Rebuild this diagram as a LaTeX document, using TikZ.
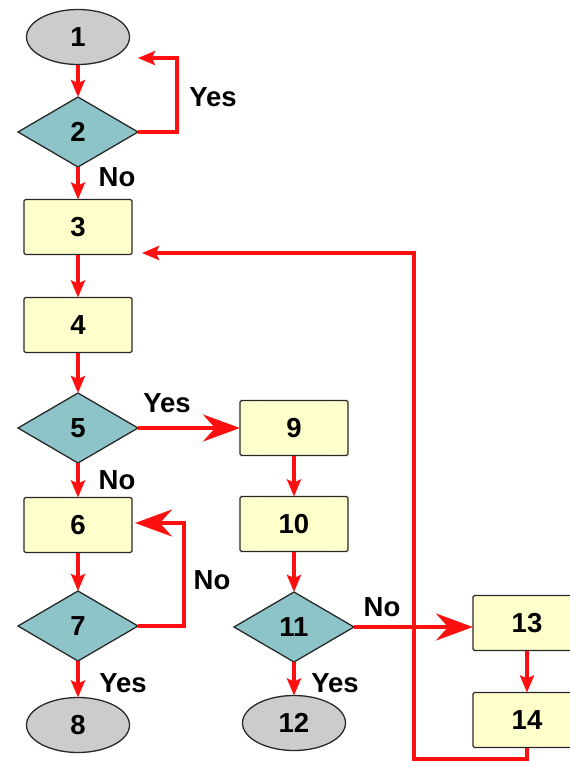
\documentclass[tikz,border=0pt]{standalone}
\usepackage{fontspec}
\setmainfont{Liberation Sans}
\usetikzlibrary{shapes.geometric,arrows.meta}
\definecolor{boxfill}{RGB}{255,255,204}
\definecolor{decfill}{RGB}{140,196,200}
\definecolor{termfill}{RGB}{204,204,204}
\definecolor{flowred}{RGB}{255,16,16}
\definecolor{edge}{RGB}{40,40,40}
\begin{document}
\begin{tikzpicture}[x=1pt,y=-1pt,
  font=\fontsize{27.5}{27.5}\selectfont\bfseries,
  base/.style={draw=edge, line width=1.3pt, inner sep=0pt, outer sep=0pt},
  procbox/.style={base, rectangle, rounded corners=1.5pt, fill=boxfill,
    minimum width=108pt, minimum height=55pt},
  decision/.style={base, diamond, fill=decfill,
    minimum width=120pt, minimum height=70pt},
  terminal/.style={base, ellipse, fill=termfill,
    minimum width=103pt, minimum height=55pt},
  flow/.style={draw=flowred, line width=3.5pt,
    -{Stealth[length=17pt, width=14pt, inset=3pt]}},
  flowbig/.style={draw=flowred, line width=3.5pt,
    -{Stealth[length=37pt, width=27pt, inset=12pt]}},
  lbl/.style={inner sep=0pt}]
\useasboundingbox (0,0) rectangle (570,761);
\clip (0,0) rectangle (570,761);

% left column
\node[terminal] (n1) at (78,37) {1};
\node[decision] (n2) at (78,132) {2};
\node[procbox]  (n3) at (78,227) {3};
\node[procbox]  (n4) at (78,325) {4};
\node[decision] (n5) at (78,428) {5};
\node[procbox]  (n6) at (78,525) {6};
\node[decision] (n7) at (78,626) {7};
\node[terminal] (n8) at (78,725) {8};

% middle column
\node[procbox]  (n9)  at (294,428) {9};
\node[procbox]  (n10) at (294,524) {10};
\node[decision] (n11) at (294,627) {11};
\node[terminal] (n12) at (294,723) {12};

% right column
\node[procbox] (n13) at (527,623) {13};
\node[procbox] (n14) at (527,720) {14};

% loose ends of the return loops
\coordinate (ret1) at (138,58);
\coordinate (ret3) at (142,253);
\coordinate (ret6) at (135,523);

% straight flow
\draw[flow] (n1) -- (n2);
\draw[flow] (n2) -- (n3);
\draw[flow] (n3) -- (n4);
\draw[flow] (n4) -- (n5);
\draw[flow] (n5) -- (n6);
\draw[flow] (n6) -- (n7);
\draw[flow] (n7) -- (n8);
\draw[flow] (n9) -- (n10);
\draw[flow] (n10) -- (n11);
\draw[flow] (n11) -- (n12);
\draw[flow] (n13) -- (n14);
\draw[flowbig] (n5.east) -- (n9.west |- n5.east);
\draw[flowbig] (n11.east) -- (n13.west |- n11.east);

% loops back
\draw[flow] (n2.east) -- (177,132) |- (ret1);
\draw[flowbig] (n7.east) -- (184,626) |- (ret6);
\draw[flow] (n14.south) |- (414,759) |- (ret3);

% branch labels
\node[lbl] (yes2)  at (213,97)  {Yes};
\node[lbl] (no2)   at (117,177) {No};
\node[lbl] (yes5)  at (167,403) {Yes};
\node[lbl] (no5)   at (117,480) {No};
\node[lbl] (no7)   at (212,580) {No};
\node[lbl] (yes7)  at (123,683) {Yes};
\node[lbl] (no11)  at (382,607) {No};
\node[lbl] (yes11) at (335,683) {Yes};
\end{tikzpicture}
\end{document}
